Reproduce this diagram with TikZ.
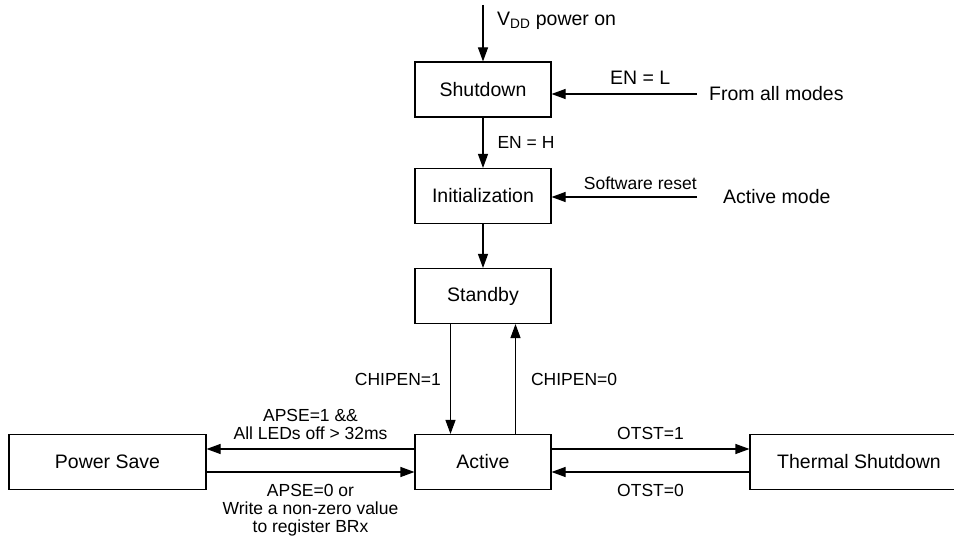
\documentclass[tikz,border=0pt]{standalone}
\usepackage{fontspec}
\setmainfont{Liberation Sans}
\usetikzlibrary{arrows.meta}

\begin{document}
\begin{tikzpicture}[x=1pt, y=-1pt,
        mode/.style={draw=black, line width=1.1pt, minimum width=136pt, minimum height=55pt, inner sep=0pt, font=\fontsize{19.5}{22}\selectfont},
        side/.style={font=\fontsize{19.5}{22}\selectfont, inner ysep=0pt, anchor=west},
        lbl/.style={font=\fontsize{17.5}{18}\selectfont, align=center, inner sep=0pt},
        flow/.style={line width=1.1pt, -{Triangle[length=14pt, width=10pt]}}]
                \useasboundingbox (0,0) rectangle (954,540);
                \clip (0,0) rectangle (954,540);
                
                \node[mode] (shutdown) at (483,89.5) {Shutdown};
                \node[mode] (init) at (483,196) {Initialization};
                \node[mode] (standby) at (483,296) {Standby};
                \node[mode] (active) at (483,462) {Active};
                \node[mode, minimum width=197pt] (psave) at (107.5,462) {Power Save};
                \node[mode, minimum width=218pt] (thermal) at (859,462) {Thermal Shutdown};
                
                \coordinate (vdd) at (483,5);
                \node[lbl, anchor=west, font=\fontsize{19.5}{22}\selectfont] (vddlbl) at (497,21) {V\textsubscript{DD} power on};
                \node[side, inner xsep=12pt] (fromall) at (697,94) {From all modes};
                \node[side, inner xsep=26pt] (actmode) at (697,197) {Active mode};
                
                \draw[flow] (vdd) -- (shutdown.north);
                \draw[flow] (fromall.west) -- (fromall.west -| shutdown.east) node[lbl, pos=.39, above=9pt, font=\fontsize{19.5}{22}\selectfont] {EN = L};
                \draw[flow] (shutdown) -- (init) node[lbl, midway, right=14pt] {EN = H};
                \draw[flow] (actmode.west) -- (actmode.west -| init.east) node[lbl, pos=.39, above=7pt] {Software reset};
                \draw[flow] (init) -- (standby);
                
                \draw[flow] ([xshift=-32.5pt]standby.south) -- ([xshift=-32.5pt]active.north) node[lbl, midway, left=9pt] {CHIPEN=1};
                \draw[flow] ([xshift=32.5pt]active.north) -- ([xshift=32.5pt]standby.south) node[lbl, midway, right=15pt] {CHIPEN=0};
                
                \draw[flow] ([yshift=13pt]active.west) -- ([yshift=13pt]psave.east) node[lbl, midway, above=9pt] {APSE=1 \&\&\\All LEDs off > 32ms};
                \draw[flow] ([yshift=-10pt]psave.east) -- ([yshift=-10pt]active.west) node[lbl, midway, below=12pt] {APSE=0 or\\Write a non-zero value\\to register BRx};
                
                \draw[flow] ([yshift=13pt]active.east) -- ([yshift=13pt]thermal.west) node[lbl, midway, above=9pt] {OTST=1};
                \draw[flow] ([yshift=-10pt]thermal.west) -- ([yshift=-10pt]active.east) node[lbl, midway, below=12pt] {OTST=0};
            \end{tikzpicture}
\end{document}
